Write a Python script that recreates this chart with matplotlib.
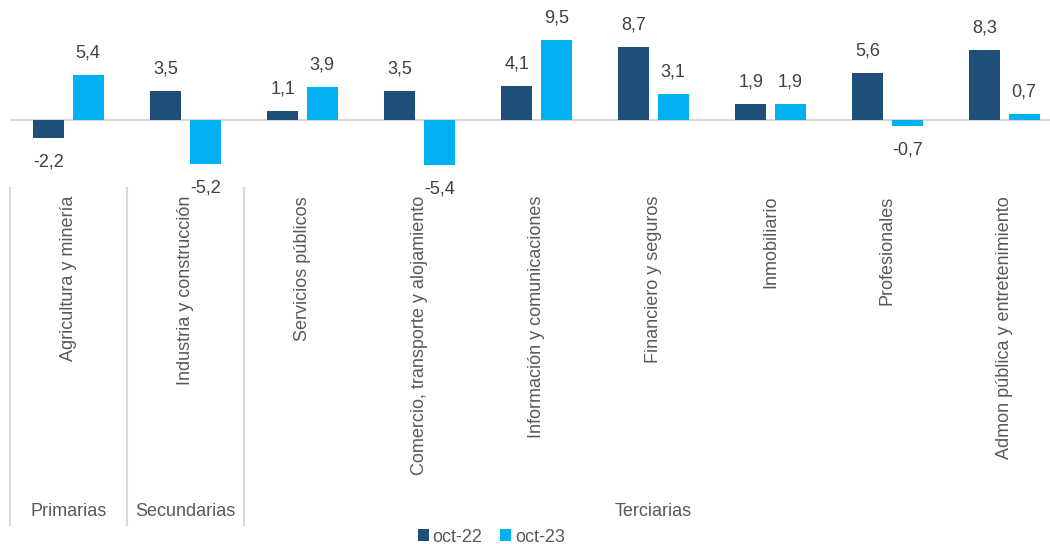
import numpy as np
import matplotlib
matplotlib.use('Agg')
import matplotlib.pyplot as plt
import matplotlib.transforms as mtransforms

plt.rcParams['font.family'] = ['Liberation Sans', 'DejaVu Sans']

# datos
categorias = ['Agricultura y minería', 'Industria y construcción', 'Servicios públicos',
              'Comercio, transporte y alojamiento', 'Información y comunicaciones',
              'Financiero y seguros', 'Inmobiliario', 'Profesionales',
              'Admon pública y entretenimiento']
oct22 = [-2.2, 3.5, 1.1, 3.5, 4.1, 8.7, 1.9, 5.6, 8.3]
oct23 = [5.4, -5.2, 3.9, -5.4, 9.5, 3.1, 1.9, -0.7, 0.7]
grupos = ['Primarias', 'Secundarias', 'Terciarias']
grupo_rango = [(0, 0), (1, 1), (2, 8)]
series = ['oct-22', 'oct-23']

color_oscuro = '#1F4E79'
color_claro = '#00B0F0'
gris = '#D9D9D9'
texto = '#404040'
texto_ejes = '#595959'

W, H = 1050, 544
fig = plt.figure(figsize=(W / 100, H / 100), dpi=100)
ax = fig.add_axes([10 / W, 1 - 185 / H, 1040 / W, 185 / H])

x = np.arange(len(categorias))
ancho = 0.265
desp = 0.168
b1 = ax.bar(x - desp, oct22, ancho, color=color_oscuro, label=series[0])
b2 = ax.bar(x + desp, oct23, ancho, color=color_claro, label=series[1])

escala = 8.38  # px por unidad
ax.set_ylim(-65 / escala, 120 / escala)
ax.set_xlim(-0.5, -0.5 + 1040 / 117)
ax.axhline(0, color=gris, lw=1.5, zorder=0)
ax.axis('off')

for barras, vals in ((b1, oct22), (b2, oct23)):
    for r, v in zip(barras, vals):
        off = 22 if v >= 0 else -24
        ax.annotate(f'{v:.1f}'.replace('.', ','), (r.get_x() + r.get_width() / 2, v),
                    xytext=(0, off), textcoords='offset pixels',
                    ha='center', va='center', fontsize=13, color=texto)

# eje de categorias de dos niveles
trans = mtransforms.blended_transform_factory(ax.transData, fig.transFigure)
for i, cat in enumerate(categorias):
    ax.text(i, 1 - 196 / H, cat, rotation=90, ha='center', va='top',
            fontsize=13, color=texto_ejes, transform=trans, clip_on=False)

for sep in (-0.5, 0.5, 1.5):
    ax.plot([sep, sep], [1 - 188 / H, 1 - 525 / H], color=gris, lw=1.5,
            transform=trans, clip_on=False)

for g, (a, b) in zip(grupos, grupo_rango):
    ax.text((a + b) / 2, 1 - 512 / H, g, ha='center', va='center',
            fontsize=13, color=texto_ejes, transform=trans, clip_on=False)

fig.legend(loc='center', bbox_to_anchor=(0.468, 7 / H), ncol=2, frameon=False,
           fontsize=13, handlelength=0.6, handleheight=0.6, handletextpad=0.2,
           columnspacing=1.0, borderpad=0, labelcolor=texto_ejes)

fig.savefig('out.png', dpi=100)
